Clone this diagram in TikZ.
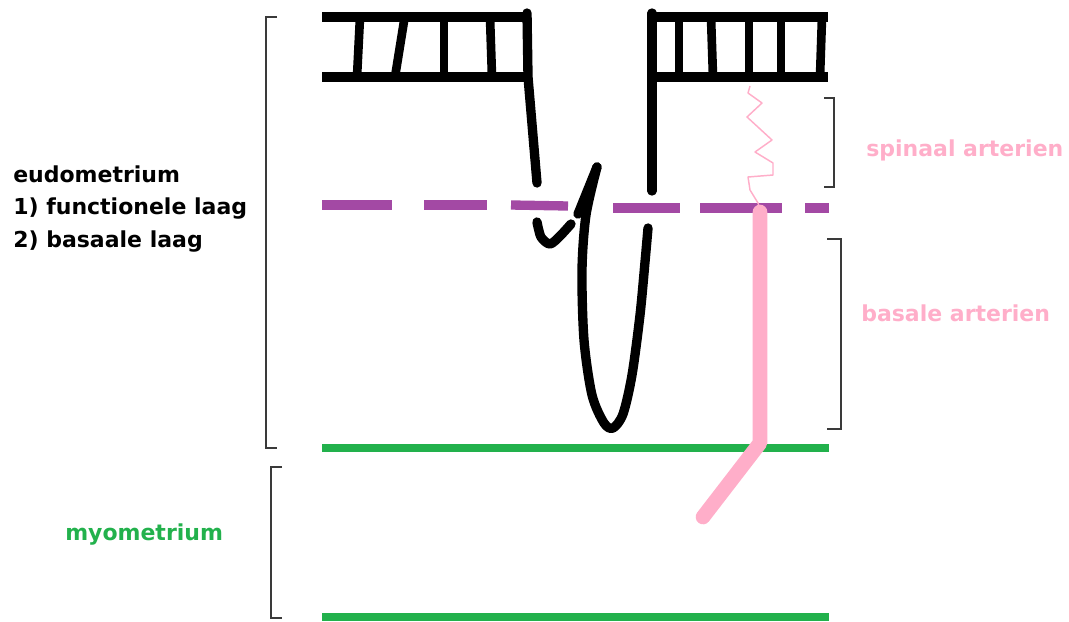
\documentclass[tikz,border=0pt]{standalone}
\usepackage{fontspec}
\setmainfont{DejaVu Sans}
\usepackage{xcolor}
\usepackage{tikz}
\definecolor{rosepink}{HTML}{FFAEC9}
\definecolor{layerpurple}{HTML}{A349A4}
\definecolor{myogreen}{HTML}{22B14C}
\definecolor{bracketgray}{HTML}{3A3A3A}

\begin{document}
\begin{tikzpicture}[
  x=0.75pt, y=-0.75pt,
  every node/.style={font=\fontsize{16.5}{24.5}\selectfont\bfseries, align=left, inner sep=0pt},
  surface/.style={line width=7pt},
  rung/.style={line width=6.5pt},
  wall/.style={line width=7pt, line cap=round, line join=round},
  layerline/.style={line width=7pt, layerpurple},
  myoline/.style={line width=6.5pt, myogreen},
  spiral/.style={line width=1.1pt, rosepink, line join=round},
  basal/.style={line width=11pt, rosepink, line cap=round, line join=round},
  brace/.style={line width=1.5pt, bracketgray},
  tag/.style={anchor=west}
]
\useasboundingbox (0,0) rectangle (1069,621);

% Surface epithelium, left block
\draw[surface] (322,17) -- (527,17);
\draw[surface] (322,77) -- (527,77);
\draw[rung] (360,17) -- (357,77);
\draw[rung] (405,15) -- (395,77);
\draw[rung] (444,17) -- (444,77);
\draw[rung] (490,17) -- (492,77);

% Surface epithelium, right block
\draw[surface] (652,17) -- (828,17);
\draw[surface] (652,77) -- (828,77);
\draw[rung] (679,17) -- (679,73);
\draw[rung] (711,17) -- (713,77);
\draw[rung] (749,17) -- (749,77);
\draw[rung] (781,17) -- (781,77);
\draw[rung] (822,17) -- (820,77);

% Gland walls
\draw[wall] (527,13) -- (528,77) -- (537,183);
\draw[wall] (652,13) -- (652,191);
\draw[wall] plot[smooth] coordinates {(537,222) (541,237) (550,244) (560,236) (571,224)};
\draw[wall] (578,214) -- (597,167);
\draw[wall] plot[smooth] coordinates {(597,167) (586,215) (582,270) (584,340)
  (592,395) (604,423) (613,428) (623,414) (632,375) (640,315) (645,262) (648,228)};

% Boundary between functional and basal layer
\draw[layerline] (322,205) -- (392,205);
\draw[layerline] (424,205) -- (487,205);
\draw[layerline] (511,205) -- (568,206);
\draw[layerline] (613,208) -- (680,208);
\draw[layerline] (700,208) -- (782,208);
\draw[layerline] (805,208) -- (829,208);

% Myometrium borders
\draw[myoline] (322,448) -- (829,448);
\draw[myoline] (322,617) -- (829,617);

% Spiral artery
\draw[spiral] (750,86) -- (748,93) -- (762,103) -- (747,117) -- (772,140)
  -- (755,152) -- (773,163) -- (773,175) -- (748,177) -- (750,190) -- (758,203) -- (760,210);

% Basal artery
\draw[basal] (760,212) -- (760,443) -- (703,517);

% Brackets
\draw[brace] (277,17) -- (266,17) -- (266,448) -- (277,448);
\draw[brace] (282,467) -- (271,467) -- (271,618) -- (282,618);
\draw[brace] (824,98) -- (834,98) -- (834,187) -- (824,187);
\draw[brace] (827,239) -- (841,239) -- (841,429) -- (827,429);

% Labels
\node[tag] (endo) at (13,209) {eudometrium\\1) functionele laag\\2) basaale laag};
\node[tag, text=rosepink] (spinaal) at (866,150) {spinaal arterien};
\node[tag, text=rosepink] (basale) at (861,313) {basale arterien};
\node[tag, text=myogreen] (myo) at (65,535) {myometrium};

\end{tikzpicture}
\end{document}
